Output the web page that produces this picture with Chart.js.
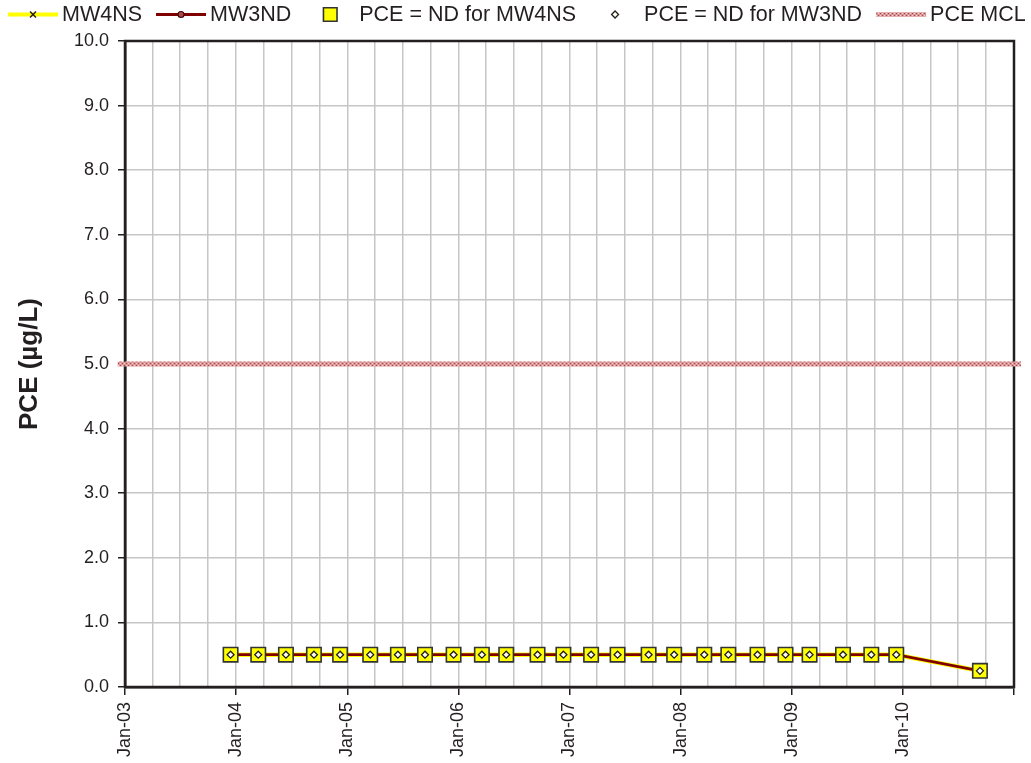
<!DOCTYPE html>
<html>
<head>
<meta charset="utf-8">
<script src="https://cdn.jsdelivr.net/npm/chart.js@4.4.0/dist/chart.umd.min.js"></script>
<style>
  html, body { margin: 0; padding: 0; background: #ffffff; }
  #wrap { width: 1031px; height: 763px; }
</style>
</head>
<body>
<div id="wrap"><canvas id="c" width="1031" height="763"></canvas></div>
<script>
// Sampling dates (quarterly monitoring, Dec 2003 - Sep 2010)
const sampleDates = [
  '2003-12-14', '2004-03-14', '2004-06-13', '2004-09-13', '2004-12-08',
  '2005-03-17', '2005-06-16', '2005-09-13', '2005-12-16', '2006-03-19',
  '2006-06-07', '2006-09-18', '2006-12-12', '2007-03-13', '2007-06-08',
  '2007-09-18', '2007-12-11', '2008-03-19', '2008-06-06', '2008-09-10',
  '2008-12-11', '2009-02-28', '2009-06-18', '2009-09-19', '2009-12-10',
  '2010-09-11'
];

// PCE results (ug/L); non-detects plotted at half the reporting limit
const mw4nsValues = [
  0.5, 0.5, 0.5, 0.5, 0.5, 0.5, 0.5, 0.5, 0.5, 0.5, 0.5, 0.5, 0.5,
  0.5, 0.5, 0.5, 0.5, 0.5, 0.5, 0.5, 0.5, 0.5, 0.5, 0.5, 0.5, 0.25
];
const mw3ndValues = [
  0.5, 0.5, 0.5, 0.5, 0.5, 0.5, 0.5, 0.5, 0.5, 0.5, 0.5, 0.5, 0.5,
  0.5, 0.5, 0.5, 0.5, 0.5, 0.5, 0.5, 0.5, 0.5, 0.5, 0.5, 0.5, 0.25
];
const ndMw4nsValues = [
  0.5, 0.5, 0.5, 0.5, 0.5, 0.5, 0.5, 0.5, 0.5, 0.5, 0.5, 0.5, 0.5,
  0.5, 0.5, 0.5, 0.5, 0.5, 0.5, 0.5, 0.5, 0.5, 0.5, 0.5, 0.5, 0.25
];
const ndMw3ndValues = [
  0.5, 0.5, 0.5, 0.5, 0.5, 0.5, 0.5, 0.5, 0.5, 0.5, 0.5, 0.5, 0.5,
  0.5, 0.5, 0.5, 0.5, 0.5, 0.5, 0.5, 0.5, 0.5, 0.5, 0.5, 0.5, 0.25
];

// Maximum contaminant level reference line
const mclDates = ['2002-12-08', '2011-01-24'];
const mclValues = [5.0, 5.0];

// Axis ranges
const axisStartDate = '2003-01-01';
const axisEndDate = '2011-01-01';
const yMin = 0;
const yMax = 10;
const monthNames = ['Jan','Feb','Mar','Apr','May','Jun','Jul','Aug','Sep','Oct','Nov','Dec'];

const DAY_MS = 86400000;
function toDay(s) {
  const [y, m, d] = s.split('-').map(Number);
  return Date.UTC(y, m - 1, d) / DAY_MS;
}
function toPoints(dates, values) {
  return dates.map((d, i) => ({ x: toDay(d), y: values[i] }));
}
function dateOf(dayValue) {
  return new Date(Math.round(dayValue) * DAY_MS);
}
function isJanuary(dayValue) {
  const d = dateOf(dayValue);
  return d.getUTCMonth() === 0 && d.getUTCDate() === 1;
}

// Quarterly grid positions (first of Jan/Apr/Jul/Oct)
function quarterTicks(start, end) {
  const s = dateOf(toDay(start)), e = dateOf(toDay(end));
  const out = [];
  let y = s.getUTCFullYear(), m = s.getUTCMonth();
  while (Date.UTC(y, m, 1) <= e.getTime()) {
    out.push({ value: Date.UTC(y, m, 1) / DAY_MS });
    m += 3;
    if (m > 11) { m -= 12; y += 1; }
  }
  return out;
}

// Hatched fill for the MCL line
function makeMclPattern() {
  const p = document.createElement('canvas');
  p.width = 4; p.height = 4;
  const g = p.getContext('2d');
  g.fillStyle = '#da9696';
  g.fillRect(0, 0, 4, 4);
  g.fillStyle = '#a84848';
  g.fillRect(0, 1, 1, 1);
  g.fillRect(2, 3, 1, 1);
  g.fillStyle = '#f2d2d2';
  g.fillRect(2, 1, 1, 1);
  g.fillRect(0, 3, 1, 1);
  return document.getElementById('c').getContext('2d').createPattern(p, 'repeat');
}
const mclPattern = makeMclPattern();

const FONT_FAMILY = 'Arial, "Liberation Sans", Helvetica, sans-serif';
const TEXT_COLOR = '#231f20';

// Plot-area frame, drawn beneath the data
const plotFrame = {
  id: 'plotFrame',
  beforeDatasetsDraw(chart) {
    const { ctx, chartArea: a } = chart;
    ctx.save();
    ctx.strokeStyle = TEXT_COLOR;
    ctx.lineWidth = 2.5;
    ctx.strokeRect(a.left, a.top, a.right - a.left, a.bottom - a.top);
    ctx.restore();
  }
};

// Single-row legend: line sample plus marker, followed by the label
const lineLegend = {
  id: 'lineLegend',
  afterDraw(chart, args, opts) {
    const ctx = chart.ctx;
    ctx.save();
    ctx.font = opts.font;
    ctx.textBaseline = 'middle';
    ctx.textAlign = 'left';
    let x = opts.startX;
    const y = opts.y;
    const sw = opts.symbolWidth;
    chart.data.datasets.forEach(ds => {
      if (ds.showLine !== false) {
        ctx.strokeStyle = ds.borderColor;
        ctx.lineWidth = ds.legendLineWidth || ds.borderWidth;
        ctx.beginPath();
        ctx.moveTo(x, y);
        ctx.lineTo(x + sw, y);
        ctx.stroke();
      }
      if (ds.pointRadius > 0) {
        ctx.fillStyle = ds.pointBackgroundColor;
        ctx.strokeStyle = ds.pointBorderColor;
        ctx.lineWidth = ds.pointBorderWidth;
        Chart.helpers.drawPoint(ctx, {
          pointStyle: ds.pointStyle,
          radius: ds.legendPointRadius || ds.pointRadius,
          borderWidth: ds.pointBorderWidth,
          rotation: 0
        }, x + sw / 2, y);
      }
      ctx.fillStyle = opts.color;
      ctx.fillText(ds.label, x + sw + opts.textGap, y + 1);
      x += sw + opts.textGap + ctx.measureText(ds.label).width + opts.itemGap;
    });
    ctx.restore();
  }
};

new Chart(document.getElementById('c'), {
  type: 'scatter',
  data: {
    datasets: [
      {
        label: 'MW4NS',
        data: toPoints(sampleDates, mw4nsValues),
        showLine: true,
        borderColor: '#ffff00',
        borderWidth: 4.5,
        legendLineWidth: 4,
        pointStyle: 'crossRot',
        pointRadius: 3.5,
        legendPointRadius: 4.2,
        pointBorderColor: '#231f20',
        pointBackgroundColor: '#231f20',
        pointBorderWidth: 1.5,
        order: 4
      },
      {
        label: 'MW3ND',
        data: toPoints(sampleDates, mw3ndValues),
        showLine: true,
        borderColor: '#800000',
        borderWidth: 2.75,
        legendLineWidth: 3,
        pointStyle: 'circle',
        pointRadius: 3,
        pointBorderColor: '#3a0a0a',
        pointBackgroundColor: '#b04848',
        pointBorderWidth: 1.2,
        order: 3
      },
      {
        label: 'PCE = ND for MW4NS',
        data: toPoints(sampleDates, ndMw4nsValues),
        showLine: false,
        pointStyle: 'rect',
        pointRadius: 10.2,
        legendPointRadius: 9.6,
        pointBorderColor: '#333333',
        pointBackgroundColor: '#ffff00',
        pointBorderWidth: 1.6,
        order: 2
      },
      {
        label: 'PCE = ND for MW3ND',
        data: toPoints(sampleDates, ndMw3ndValues),
        showLine: false,
        pointStyle: 'rectRot',
        pointRadius: 3.5,
        pointBorderColor: '#231f20',
        pointBackgroundColor: '#fffff0',
        pointBorderWidth: 1.3,
        order: 1
      },
      {
        label: 'PCE MCL',
        data: toPoints(mclDates, mclValues),
        showLine: true,
        borderColor: mclPattern,
        borderWidth: 5,
        legendLineWidth: 4.5,
        pointRadius: 0,
        clip: false,
        order: 5
      }
    ]
  },
  options: {
    responsive: false,
    animation: false,
    devicePixelRatio: 1,
    layout: { padding: { top: 41, right: 17, left: 0, bottom: 0 } },
    plugins: {
      legend: { display: false },
      tooltip: { enabled: false },
      lineLegend: {
        font: '21.5px ' + FONT_FAMILY,
        color: TEXT_COLOR,
        startX: 8,
        y: 14.5,
        symbolWidth: 50,
        textGap: 4,
        itemGap: 14
      }
    },
    scales: {
      x: {
        type: 'linear',
        min: toDay(axisStartDate),
        max: toDay(axisEndDate),
        afterBuildTicks: scale => { scale.ticks = quarterTicks(axisStartDate, axisEndDate); },
        afterFit: scale => {
          scale.height = 76;
          scale.paddingLeft = 0;
          scale.paddingRight = 0;
        },
        border: { display: true, color: TEXT_COLOR, width: 2.5 },
        grid: {
          color: '#c6c6c6',
          lineWidth: 1.5,
          drawTicks: true,
          tickLength: 8,
          tickWidth: 1.5,
          tickColor: ctx => (ctx.tick && isJanuary(ctx.tick.value)) ? TEXT_COLOR : 'rgba(0,0,0,0)'
        },
        ticks: {
          autoSkip: false,
          minRotation: 90,
          maxRotation: 90,
          padding: 7,
          color: TEXT_COLOR,
          font: { family: FONT_FAMILY, size: 18 },
          callback: value => {
            // year labels for every January inside the range, none at the closing edge
            if (!isJanuary(value) || value >= toDay(axisEndDate)) return '';
            const d = dateOf(value);
            return monthNames[d.getUTCMonth()] + '-' + String(d.getUTCFullYear() % 100).padStart(2, '0');
          }
        }
      },
      y: {
        type: 'linear',
        min: yMin,
        max: yMax,
        afterFit: scale => { scale.width = 125; },
        border: { display: true, color: TEXT_COLOR, width: 2.5 },
        grid: {
          color: '#c6c6c6',
          lineWidth: 1.5,
          drawTicks: true,
          tickLength: 7,
          tickWidth: 1.5,
          tickColor: TEXT_COLOR
        },
        ticks: {
          stepSize: 1,
          padding: 9,
          color: TEXT_COLOR,
          font: { family: FONT_FAMILY, size: 18 },
          callback: value => Number(value).toFixed(1)
        },
        title: {
          display: true,
          text: 'PCE (µg/L)',
          color: TEXT_COLOR,
          font: { family: FONT_FAMILY, size: 26, weight: 'bold' },
          padding: { top: 14, bottom: 0 }
        }
      }
    }
  },
  plugins: [plotFrame, lineLegend]
});
</script>
</body>
</html>
